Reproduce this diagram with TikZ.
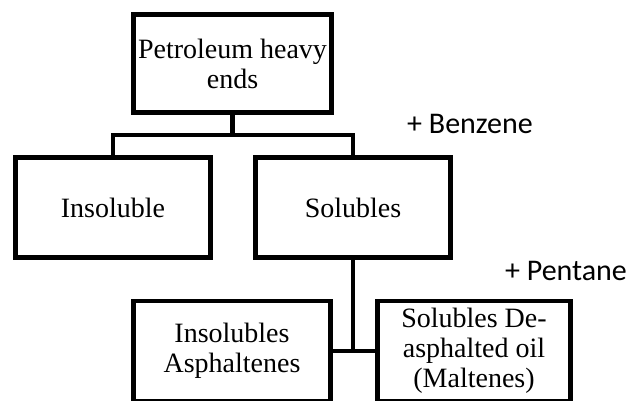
\documentclass[tikz,border=0pt]{standalone}
\usepackage{fontspec}
\setmainfont{Liberation Serif}
\newfontfamily\calib{Carlito}
\begin{document}
\begin{tikzpicture}[x=1pt,y=-1pt,
  box/.style={draw=black, line width=4.8pt, miter limit=10, inner sep=0pt, align=center,
    font=\fontsize{28}{30}\selectfont},
  conn/.style={draw=black, line width=4.8pt},
  note/.style={inner sep=0pt, font=\calib\fontsize{30}{32}\selectfont}]
\useasboundingbox (0,0) rectangle (630,401);
\node[box, minimum width=198.5pt, minimum height=98.5pt] (top) at (232.5,63.5) {Petroleum heavy\\ends};
\node[box, minimum width=195.5pt, minimum height=100.5pt] (ins) at (113,207.5) {Insoluble};
\node[box, minimum width=195.5pt, minimum height=100.5pt] (sol) at (353,207.5) {Solubles};
\node[box, minimum width=197.5pt, minimum height=100pt] (asp) at (232,351) {Insolubles\\Asphaltenes};
\node[box, minimum width=193.5pt, minimum height=100pt] (mal) at (474,351) {Solubles De-\\asphalted oil\\(Maltenes)};
\node[note] (benz) at (470,124) {+ Benzene};
\node[note] (pent) at (566,271) {+ Pentane};
\coordinate (barY) at (0,135);
\draw[conn] (top.south) -- (top.south |- barY);
\draw[conn] (ins.north) -- (ins.north |- barY) -- (sol.north |- barY) -- (sol.north);
\draw[conn] (sol.south) -- (sol.south |- asp.east);
\draw[conn] (asp.east) -- (mal.west);
\end{tikzpicture}
\end{document}
